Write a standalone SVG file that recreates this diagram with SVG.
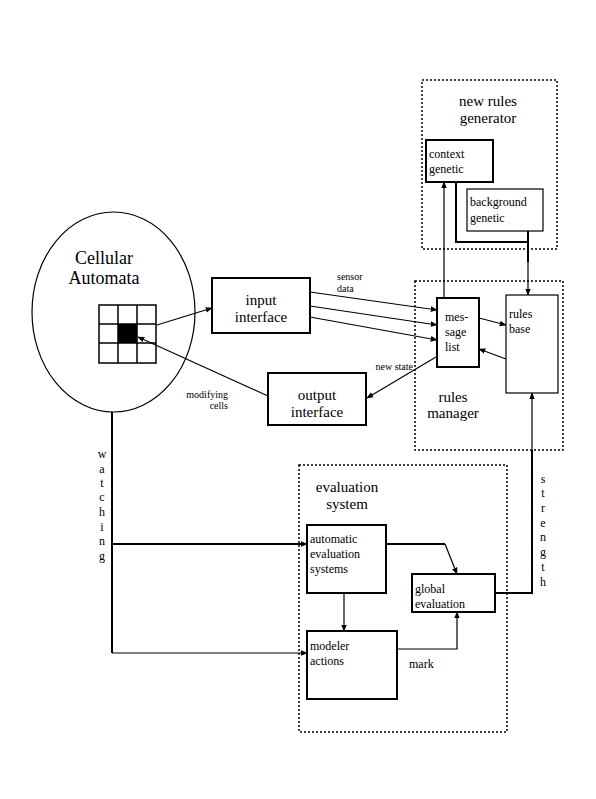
<svg xmlns="http://www.w3.org/2000/svg" width="596" height="799" viewBox="0 0 596 799">
<defs>
<marker id="ah" viewBox="0 0 10 10" refX="9" refY="5" markerWidth="7" markerHeight="7" orient="auto" markerUnits="userSpaceOnUse">
<path d="M0,1 L10,5 L0,9 z" fill="#000"/>
</marker>
</defs>
<style>
.box{fill:#fff;stroke:#000;stroke-width:2}
.thin{fill:#fff;stroke:#000;stroke-width:1.2}
.grp{fill:none;stroke:#000;stroke-width:1.5;stroke-dasharray:2 2}
.ln{fill:none;stroke:#000;stroke-width:1.2}
.lt{fill:none;stroke:#000;stroke-width:2}
.big{font-size:18px}
.mid{font-size:15px}
.sm{font-size:12px}
.xs{font-size:10px}
.c{text-anchor:middle}
.r{text-anchor:end}
</style>
<rect width="596" height="799" fill="#fff"/>
<g font-family="Liberation Serif, Times New Roman, Times, Nimbus Roman, FreeSerif, Noto Serif, DejaVu Serif, serif" fill="#000">

<g id="new-rules-generator">
<rect class="grp" x="422" y="80" width="135" height="169"/>
<text class="mid c" x="488" y="106">new rules</text>
<text class="mid c" x="488" y="123">generator</text>
</g>
<g id="rules-manager">
<rect class="grp" x="415" y="281" width="148" height="169"/>
<text class="mid c" x="453" y="402">rules</text>
<text class="mid c" x="453" y="418">manager</text>
</g>
<g id="evaluation-system">
<rect class="grp" x="299" y="465" width="208" height="267"/>
<text class="mid c" x="347" y="492">evaluation</text>
<text class="mid c" x="347" y="509">system</text>
</g>

<g id="connectors">
<line class="ln" x1="157" y1="325" x2="212" y2="308" marker-end="url(#ah)"/>
<line class="ln" x1="268" y1="396" x2="138" y2="337" marker-end="url(#ah)"/>
<line class="ln" x1="310" y1="292" x2="437" y2="310" marker-end="url(#ah)"/>
<line class="ln" x1="310" y1="306" x2="437" y2="325" marker-end="url(#ah)"/>
<line class="ln" x1="310" y1="317" x2="437" y2="340" marker-end="url(#ah)"/>
<line class="ln" x1="436" y1="357" x2="367" y2="398" marker-end="url(#ah)"/>
<line class="ln" x1="479" y1="318" x2="506" y2="325" marker-end="url(#ah)"/>
<line class="ln" x1="506" y1="359" x2="479" y2="349" marker-end="url(#ah)"/>
<line class="ln" x1="444" y1="298" x2="444" y2="182" marker-end="url(#ah)"/>
<polyline class="lt" points="456,182 456,242 528,242"/>
<line class="lt" x1="528" y1="231" x2="528" y2="262"/>
<line class="ln" x1="528" y1="262" x2="528" y2="295" marker-end="url(#ah)"/>
<line class="lt" x1="112" y1="412" x2="112" y2="653"/>
<line class="lt" x1="112" y1="544" x2="307" y2="544" marker-end="url(#ah)"/>
<line class="ln" x1="112" y1="653" x2="307" y2="653" marker-end="url(#ah)"/>
<polyline class="lt" points="386,544 445,544"/>
<line class="ln" x1="445" y1="544" x2="457" y2="574" marker-end="url(#ah)"/>
<line class="ln" x1="344" y1="593" x2="344" y2="631" marker-end="url(#ah)"/>
<polyline class="ln" points="397,649 457,649 457,612" marker-end="url(#ah)"/>
<polyline class="lt" points="495,593 532,593 532,450"/>
<line class="ln" x1="532" y1="450" x2="532" y2="393" marker-end="url(#ah)"/>
</g>

<g id="cellular-automata">
<ellipse cx="113.5" cy="312" rx="81.5" ry="100" fill="none" stroke="#000" stroke-width="1.2"/>
<text class="big c" x="104" y="264">Cellular</text>
<text class="big c" x="104" y="284">Automata</text>
<g fill="none" stroke="#000" stroke-width="1.5">
<rect x="99" y="305" width="57" height="58"/>
<line x1="118" y1="305" x2="118" y2="363"/>
<line x1="137" y1="305" x2="137" y2="363"/>
<line x1="99" y1="324" x2="156" y2="324"/>
<line x1="99" y1="343" x2="156" y2="343"/>
</g>
<rect x="118" y="324" width="19" height="19" fill="#000"/>
</g>

<g id="input-interface">
<rect class="box" x="212" y="278" width="98" height="55"/>
<text class="mid c" x="261" y="305">input</text>
<text class="mid c" x="261" y="322">interface</text>
</g>
<g id="output-interface">
<rect class="box" x="268" y="373" width="98" height="52"/>
<text class="mid c" x="317" y="400">output</text>
<text class="mid c" x="317" y="417">interface</text>
</g>
<g id="message-list">
<rect class="box" x="437" y="298" width="42" height="69"/>
<text class="sm" x="445" y="321">mes-</text>
<text class="sm" x="445" y="336">sage</text>
<text class="sm" x="445" y="351">list</text>
</g>
<g id="rules-base">
<rect class="thin" x="506" y="295" width="52" height="98"/>
<text class="sm" x="509" y="318">rules</text>
<text class="sm" x="509" y="333">base</text>
</g>
<g id="context-genetic">
<rect class="box" x="426" y="140" width="67" height="42"/>
<text class="sm" x="429" y="158">context</text>
<text class="sm" x="429" y="173">genetic</text>
</g>
<g id="background-genetic">
<rect class="thin" x="467" y="189" width="76" height="42"/>
<text class="sm" x="470" y="206">background</text>
<text class="sm" x="470" y="222">genetic</text>
</g>
<g id="automatic-evaluation">
<rect class="box" x="307" y="525" width="79" height="68"/>
<text class="sm" x="310" y="543">automatic</text>
<text class="sm" x="310" y="558">evaluation</text>
<text class="sm" x="310" y="573">systems</text>
</g>
<g id="global-evaluation">
<rect class="box" x="412" y="574" width="83" height="38"/>
<text class="sm" x="415" y="593">global</text>
<text class="sm" x="415" y="608">evaluation</text>
</g>
<g id="modeler-actions">
<rect class="box" x="307" y="631" width="90" height="68"/>
<text class="sm" x="310" y="650">modeler</text>
<text class="sm" x="310" y="665">actions</text>
</g>

<g id="labels">
<text class="xs" x="337" y="280">sensor</text>
<text class="xs" x="337" y="292">data</text>
<text class="xs r" x="413" y="370">new state</text>
<text class="xs r" x="228" y="398">modifying</text>
<text class="xs r" x="228" y="409">cells</text>
<text class="sm" x="409" y="668">mark</text>
<g class="sm c">
<text x="102" y="458">w</text><text x="102" y="473">a</text><text x="102" y="487">t</text><text x="102" y="501">c</text><text x="102" y="516">h</text><text x="102" y="531">i</text><text x="102" y="545">n</text><text x="102" y="560">g</text>
<text x="543" y="483">s</text><text x="543" y="497">t</text><text x="543" y="512">r</text><text x="543" y="527">e</text><text x="543" y="541">n</text><text x="543" y="556">g</text><text x="543" y="571">t</text><text x="543" y="586">h</text>
</g>
</g>
</g>
</svg>
